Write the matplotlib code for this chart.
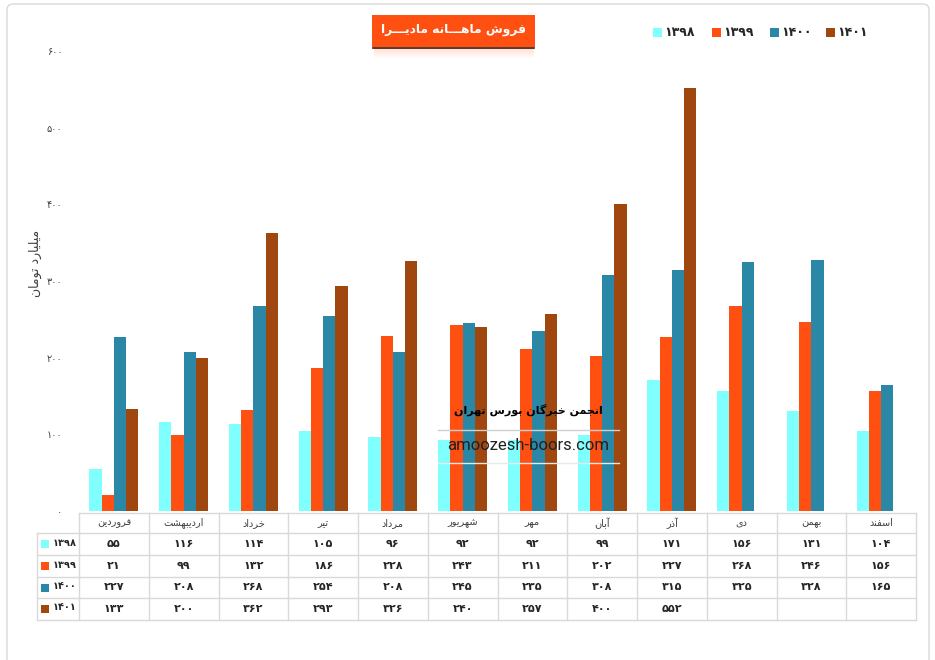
import matplotlib
matplotlib.use('Agg')
import matplotlib.pyplot as plt
from matplotlib.patches import Rectangle, FancyBboxPatch
import numpy as np

# ---------------- data ----------------
months = ['فروردین', 'اردیبهشت', 'خرداد', 'تیر', 'مرداد', 'شهریور',
          'مهر', 'آبان', 'آذر', 'دی', 'بهمن', 'اسفند']
years = ['1398', '1399', '1400', '1401']
s1398 = [55, 116, 114, 105, 96, 92, 92, 99, 171, 156, 131, 104]
s1399 = [21, 99, 132, 186, 228, 243, 211, 202, 227, 268, 246, 156]
s1400 = [227, 208, 268, 254, 208, 245, 235, 308, 315, 325, 328, 165]
s1401 = [133, 200, 362, 293, 326, 240, 257, 400, 552, None, None, None]
yticks = [0, 100, 200, 300, 400, 500, 600]
title = 'فروش ماهـــانه مادیـــرا'
ylabel = 'میلیارد تومان'
wm_title = 'انجمن خبرگان بورس تهران'
wm_url = 'amoozesh-boors.com'

series = [s1398, s1399, s1400, s1401]
colors = ['#80FFFF', '#FF5012', '#2A87A5', '#A0470F']

# ---------------- simple Persian shaping ----------------
DUAL = {'\u0628': 0xFE8F, '\u067E': 0xFB56, '\u062A': 0xFE95, '\u062B': 0xFE99,
        '\u062C': 0xFE9D, '\u062D': 0xFEA1, '\u062E': 0xFEA5, '\u0633': 0xFEB1,
        '\u0634': 0xFEB5, '\u0635': 0xFEB9, '\u0639': 0xFEC9, '\u0641': 0xFED1,
        '\u0642': 0xFED5, '\u06A9': 0xFB8E, '\u06AF': 0xFB92, '\u0644': 0xFEDD,
        '\u0645': 0xFEE1, '\u0646': 0xFEE5, '\u0647': 0xFEE9, '\u06CC': 0xFBFC}
RIGHT = {'\u0622': 0xFE81, '\u0627': 0xFE8D, '\u062F': 0xFEA9, '\u0630': 0xFEAB,
         '\u0631': 0xFEAD, '\u0632': 0xFEAF, '\u0698': 0xFB8A, '\u0648': 0xFEED}
TATWEEL = '\u0640'


def is_dual(c):
    return c in DUAL or c == TATWEEL


def is_join(c):
    return c in DUAL or c in RIGHT or c == TATWEEL


def shape(s):
    out = []
    n = len(s)
    for i, c in enumerate(s):
        if not is_join(c):
            out.append(c)
            continue
        jp = i > 0 and is_dual(s[i - 1])
        jn = is_dual(c) and i < n - 1 and is_join(s[i + 1])
        if c == TATWEEL:
            out.append(c)
            continue
        if c in DUAL:
            b = DUAL[c]
            if jp and jn:
                g = b + 3
            elif jp:
                g = b + 1
            elif jn:
                g = b + 2
            else:
                g = b
        else:
            b = RIGHT[c]
            g = b + 1 if jp else b
        out.append(chr(g))
    return ''.join(out[::-1])


def fa(v):
    return str(v).translate(str.maketrans('0123456789', '۰۱۲۳۴۵۶۷۸۹'))


FONT = 'DejaVu Sans'
plt.rcParams['font.family'] = [FONT]

W, H = 935, 660
fig = plt.figure(figsize=(W / 100, H / 100), dpi=100)

# geometry (pixels)
XL, XR = 79, 916
Y0, Y600 = 511, 51


def fx(px):
    return px / W


def fy(py):
    return 1 - py / H


ax = fig.add_axes([fx(XL), fy(Y0), fx(XR) - fx(XL), fy(Y600) - fy(Y0)])
n = len(months)
x = np.arange(n)
bw = 0.176
for k, (vals, col) in enumerate(zip(series, colors)):
    v = np.array([np.nan if a is None else a for a in vals], dtype=float)
    ax.bar(x + (k - 1.5) * bw, v, width=bw, color=col, edgecolor='none', zorder=2)
ax.set_xlim(-0.5, n - 0.5)
ax.set_ylim(0, 600)
ax.set_xticks([])
ax.set_yticks(yticks)
ax.set_yticklabels([fa(t) for t in yticks], fontsize=7, color='#404040')
ax.tick_params(axis='y', length=0, pad=12)
for sp in ax.spines.values():
    sp.set_visible(False)
ax.patch.set_alpha(0)

# overlay in pixel coordinates
ov = fig.add_axes([0, 0, 1, 1])
ov.set_xlim(0, W)
ov.set_ylim(H, 0)
ov.axis('off')
ov.patch.set_alpha(0)

# outer frame
ov.add_patch(FancyBboxPatch((7, 4), 922, 670, boxstyle='round,pad=0,rounding_size=6',
                            fill=False, edgecolor='#D9D9D9', lw=1))

# title box with shadow
for i in range(10):
    ov.add_patch(Rectangle((374, 48 + i), 160, 1, color='#FF5012',
                           alpha=0.18 * (1 - i / 10), lw=0))
ov.add_patch(Rectangle((372, 15), 163, 32, color='#FF5012', lw=0))
ov.plot([373, 534], [47.5, 47.5], color='#3A1A0A', lw=1.2)
ov.text(453.5, 30, shape(title), color='white', fontsize=8.8, fontweight='bold',
        ha='center', va='center')

# top legend
leg_x = [653, 712, 770, 826]
for xx, col, yr in zip(leg_x, colors, years):
    ov.add_patch(Rectangle((xx, 28), 8.5, 8.5, color=col, lw=0))
    ov.text(xx + 11, 32.5, fa(yr), fontsize=9, fontweight='bold', color='#262626',
            ha='left', va='center')

# y label
ov.text(35, 263, shape(ylabel), rotation=90, fontsize=9, color='#404040',
        ha='center', va='center')

# table
grid = '#D9D9D9'
cw = (XR - XL) / n
row_y = [513, 533, 555, 577, 598, 620]
TL = 37
# horizontal lines
ov.plot([XL, XR], [row_y[0], row_y[0]], color=grid, lw=1)
for yy in row_y[1:]:
    ov.plot([TL, XR], [yy, yy], color=grid, lw=1)
# vertical lines
ov.plot([TL, TL], [row_y[1], row_y[-1]], color=grid, lw=1)
for j in range(n + 1):
    xx = XL + j * cw
    ov.plot([xx, xx], [row_y[0], row_y[-1]], color=grid, lw=1)
# header
for j, m in enumerate(months):
    ov.text(XL + (j + 0.5) * cw, (row_y[0] + row_y[1]) / 2, shape(m), fontsize=7,
            color='#404040', ha='center', va='center')
# rows
for r, (vals, col, yr) in enumerate(zip(series, colors, years)):
    yc = (row_y[r + 1] + row_y[r + 2]) / 2
    ov.add_patch(Rectangle((41, yc - 4), 8, 8, color=col, lw=0))
    ov.text(77, yc - 1.5, fa(yr), fontsize=7, fontweight='bold', color='#262626',
            ha='right', va='center')
    for j, v in enumerate(vals):
        if v is None:
            continue
        ov.text(XL + (j + 0.5) * cw, yc, fa(v), fontsize=8, fontweight='bold',
                color='#262626', ha='center', va='center')

# watermark
ov.text(528, 410, shape(wm_title), fontsize=8, fontweight='bold', color='black',
        ha='center', va='center', zorder=10)
ov.plot([438, 619], [429.5, 429.5], color='#D0D0D0', lw=1, zorder=10)
ov.plot([438, 619], [463, 463], color='#E8E8E8', lw=1, zorder=10)
ov.text(528, 446, wm_url, fontsize=12, color='#202020', ha='center', va='center',
        zorder=10, family='Roboto')

fig.savefig('out.png', dpi=100)
